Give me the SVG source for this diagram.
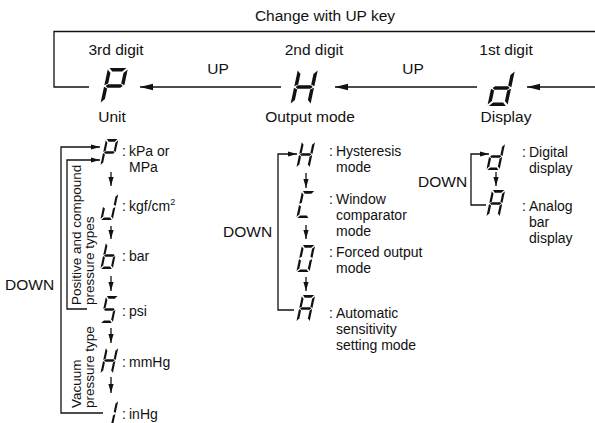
<svg xmlns="http://www.w3.org/2000/svg" xmlns:xlink="http://www.w3.org/1999/xlink" width="595" height="423" viewBox="0 0 595 423">
<style>
text{font-family:"Liberation Sans",Arial,sans-serif;fill:#111}
.h{font-size:15.5px}
.l{font-size:14px}
.r{font-size:13.5px}
.ln{fill:none;stroke:#111;stroke-width:1.3}
.seg{fill:#111}
</style>
<defs>
<marker id="ah" markerUnits="userSpaceOnUse" markerWidth="13" markerHeight="8" refX="13" refY="4" orient="auto"><path d="M0,0.8 L13,4 L0,7.2 z" fill="#111"/></marker>
<marker id="as" markerUnits="userSpaceOnUse" markerWidth="9" markerHeight="6" refX="9" refY="3" orient="auto"><path d="M0,0.4 L9,3 L0,5.6 z" fill="#111"/></marker>
<polygon id="sa" points="1.5,0 18.5,0 15,3.5 5,3.5"/>
<polygon id="sb" points="20,1.5 20,17.2 16.5,15.5 16.5,5"/>
<polygon id="sc" points="20,18.8 20,34.5 16.5,31 16.5,20.5"/>
<polygon id="sd" points="1.5,36 18.5,36 15,32.5 5,32.5"/>
<polygon id="se" points="0,18.8 3.5,20.5 3.5,31 0,34.5"/>
<polygon id="sf" points="0,1.5 3.5,5 3.5,15.5 0,17.2"/>
<polygon id="sg" points="1.5,18 3.5,16.2 16.5,16.2 18.5,18 16.5,19.8 3.5,19.8"/>
</defs>

<text class="h" x="325" y="21" text-anchor="middle">Change with UP key</text>

<g id="connectors">
<path class="ln" d="M89,87 H54 V31.5 H595"/>
<path class="ln" d="M281,87 H140" marker-end="url(#ah)"/>
<path class="ln" d="M477,87 H335" marker-end="url(#ah)"/>
<path class="ln" d="M595,87 H527" marker-end="url(#ah)"/>
<path class="ln" d="M103,413 H61 V147 H100" marker-end="url(#as)"/>
<path class="ln" d="M87,309 H67 V160 H100" marker-end="url(#as)"/>
<path class="ln" d="M294,310 H278 V154 H297" marker-end="url(#as)"/>
<path class="ln" d="M486,205 H471 V154 H489" marker-end="url(#as)"/>
<path class="ln" d="M111,172 V186" marker-end="url(#as)"/>
<path class="ln" d="M111,226 V239" marker-end="url(#as)"/>
<path class="ln" d="M111,276 V291" marker-end="url(#as)"/>
<path class="ln" d="M111,328 V343" marker-end="url(#as)"/>
<path class="ln" d="M111,377 V393" marker-end="url(#as)"/>
<path class="ln" d="M306,173 V188" marker-end="url(#as)"/>
<path class="ln" d="M306,225 V239" marker-end="url(#as)"/>
<path class="ln" d="M306,277 V291" marker-end="url(#as)"/>
<path class="ln" d="M496,172 V186" marker-end="url(#as)"/>
</g>

<g id="up-labels">
<text class="h" x="218" y="74" text-anchor="middle">UP</text>
<text class="h" x="413" y="74" text-anchor="middle">UP</text>
</g>

<g id="digit3">
<text class="h" x="116" y="55" text-anchor="middle">3rd digit</text>
<g class="seg" transform="translate(108,68) skewX(-12)"><use href="#sa"/><use href="#sb"/><use href="#sf"/><use href="#sg"/><use href="#se"/></g>
<text class="h" x="112" y="122" text-anchor="middle">Unit</text>
</g>

<g id="digit2">
<text class="h" x="314" y="55" text-anchor="middle">2nd digit</text>
<g class="seg" transform="translate(298,69) skewX(-12)"><use href="#sb"/><use href="#sc"/><use href="#se"/><use href="#sf"/><use href="#sg"/></g>
<text class="h" x="310" y="122" text-anchor="middle">Output mode</text>
</g>

<g id="digit1">
<text class="h" x="506" y="55" text-anchor="middle">1st digit</text>
<g class="seg" transform="translate(495,70) skewX(-12)"><use href="#sb"/><use href="#sc"/><use href="#sd"/><use href="#se"/><use href="#sg"/></g>
<text class="h" x="506" y="122" text-anchor="middle">Display</text>
</g>

<g id="unit-list">
<text class="h" x="5" y="290">DOWN</text>
<text class="r" transform="translate(81,305) rotate(-90)">Positive and compound</text>
<text class="r" transform="translate(94,305) rotate(-90)">pressure types</text>
<text class="r" transform="translate(81,408) rotate(-90)">Vacuum</text>
<text class="r" transform="translate(94,408) rotate(-90)">pressure type</text>

<g class="seg" transform="translate(106,139) skewX(-12) scale(0.62,0.75)"><use href="#sa"/><use href="#sb"/><use href="#sf"/><use href="#sg"/><use href="#se"/></g>
<text class="l" x="122" y="156">:<tspan x="129">kPa or</tspan><tspan x="129" y="172">MPa</tspan></text>

<g class="seg" transform="translate(106,193) skewX(-12) scale(0.62,0.75)"><use href="#sb"/><use href="#sc"/><use href="#sd"/><use href="#se"/></g>
<text class="l" x="122" y="211">:<tspan x="129">kgf/cm</tspan><tspan font-size="9" dy="-6">2</tspan></text>

<g class="seg" transform="translate(106,242) skewX(-12) scale(0.62,0.75)"><use href="#sf"/><use href="#se"/><use href="#sd"/><use href="#sc"/><use href="#sg"/></g>
<text class="l" x="122" y="261">:<tspan x="129">bar</tspan></text>

<g class="seg" transform="translate(106,296) skewX(-12) scale(0.62,0.75)"><use href="#sa"/><use href="#sf"/><use href="#sg"/><use href="#sc"/><use href="#sd"/></g>
<text class="l" x="122" y="316">:<tspan x="129">psi</tspan></text>

<g class="seg" transform="translate(106,347) skewX(-12) scale(0.62,0.75)"><use href="#sb"/><use href="#sc"/><use href="#se"/><use href="#sf"/><use href="#sg"/></g>
<text class="l" x="122" y="367">:<tspan x="129">mmHg</tspan></text>

<g class="seg" transform="translate(106,400) skewX(-12) scale(0.62,0.75)"><use href="#sb"/><use href="#sc"/></g>
<text class="l" x="122" y="419">:<tspan x="129">inHg</tspan></text>
</g>

<g id="output-list">
<text class="h" x="223" y="237">DOWN</text>
<g class="seg" transform="translate(302,141) skewX(-12) scale(0.66,0.75)"><use href="#sb"/><use href="#sc"/><use href="#se"/><use href="#sf"/><use href="#sg"/></g>
<text class="l" x="329" y="156">:<tspan x="336">Hysteresis</tspan><tspan x="336" y="172">mode</tspan></text>

<g class="seg" transform="translate(302,191) skewX(-12) scale(0.66,0.75)"><use href="#sa"/><use href="#sf"/><use href="#se"/><use href="#sd"/></g>
<text class="l" x="329" y="204">:<tspan x="336">Window</tspan><tspan x="336" y="220">comparator</tspan><tspan x="336" y="236">mode</tspan></text>

<g class="seg" transform="translate(302,245) skewX(-12) scale(0.66,0.75)"><use href="#sa"/><use href="#sb"/><use href="#sc"/><use href="#sd"/><use href="#se"/><use href="#sf"/></g>
<text class="l" x="329" y="257">:<tspan x="336">Forced output</tspan><tspan x="336" y="273">mode</tspan></text>

<g class="seg" transform="translate(302,295) skewX(-12) scale(0.66,0.75)"><use href="#sa"/><use href="#sb"/><use href="#sc"/><use href="#se"/><use href="#sf"/><use href="#sg"/></g>
<text class="l" x="329" y="318">:<tspan x="336">Automatic</tspan><tspan x="336" y="334">sensitivity</tspan><tspan x="336" y="350">setting mode</tspan></text>
</g>

<g id="display-list">
<text class="h" x="418" y="187">DOWN</text>
<g class="seg" transform="translate(492,143) skewX(-12) scale(0.66,0.75)"><use href="#sb"/><use href="#sc"/><use href="#sd"/><use href="#se"/><use href="#sg"/></g>
<text class="l" x="522" y="157">:<tspan x="529">Digital</tspan><tspan x="529" y="173">display</tspan></text>

<g class="seg" transform="translate(492,190) skewX(-12) scale(0.66,0.75)"><use href="#sa"/><use href="#sb"/><use href="#sc"/><use href="#se"/><use href="#sf"/><use href="#sg"/></g>
<text class="l" x="522" y="211">:<tspan x="529">Analog</tspan><tspan x="529" y="227">bar</tspan><tspan x="529" y="243">display</tspan></text>
</g>
</svg>
